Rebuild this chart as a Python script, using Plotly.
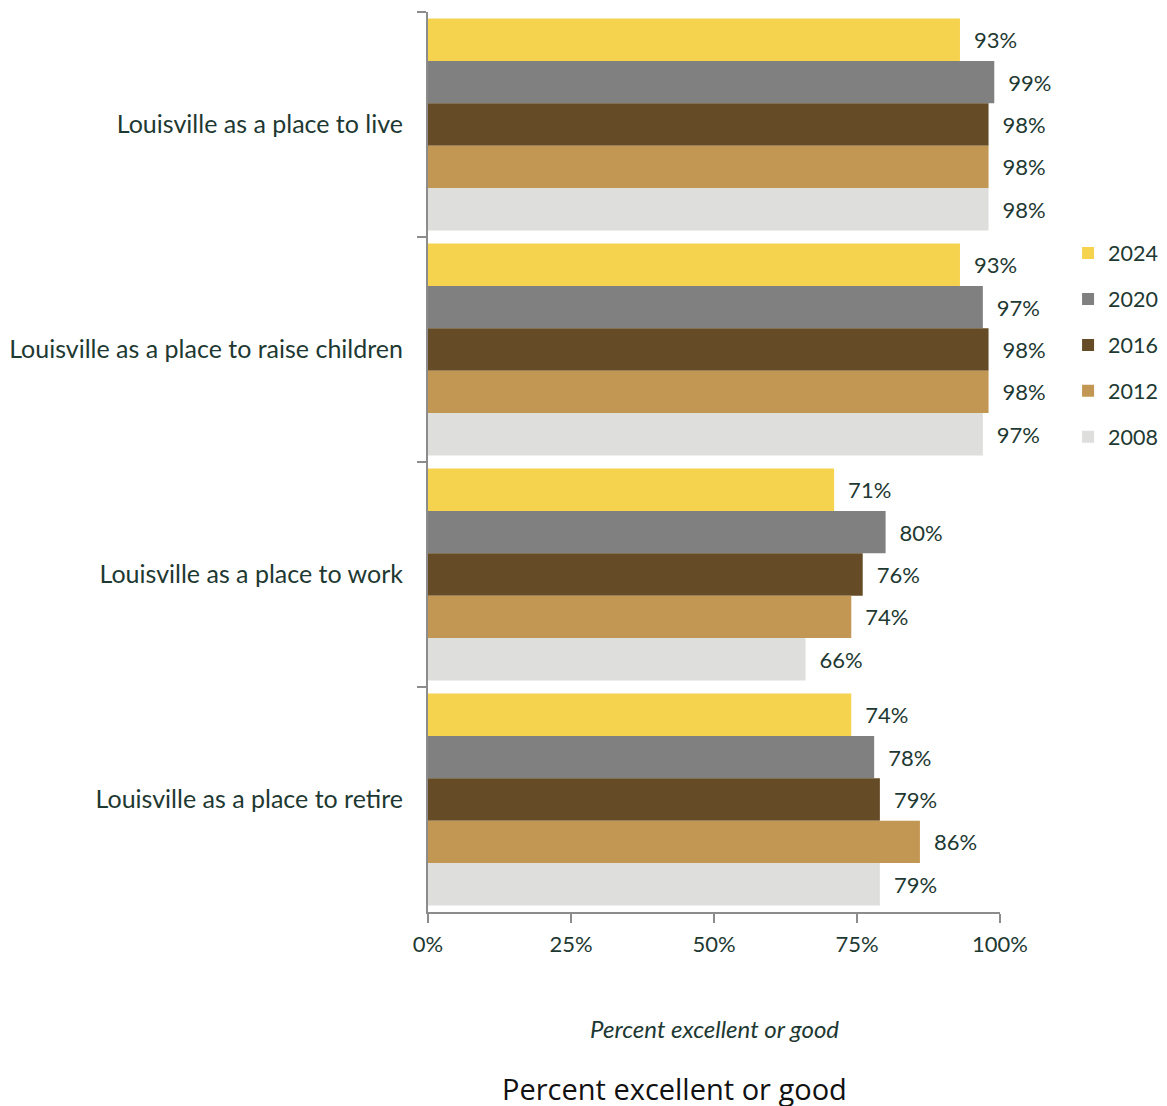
import plotly.graph_objects as go

categories = [
    "Louisville as a place to live",
    "Louisville as a place to raise children",
    "Louisville as a place to work",
    "Louisville as a place to retire",
]
years = ["2024", "2020", "2016", "2012", "2008"]
values = {
    "2024": [93, 93, 71, 74],
    "2020": [99, 97, 80, 78],
    "2016": [98, 98, 76, 79],
    "2012": [98, 98, 74, 86],
    "2008": [98, 97, 66, 79],
}
colors = {
    "2024": "#F5D34F",
    "2020": "#808080",
    "2016": "#654C26",
    "2012": "#C29753",
    "2008": "#DEDFDC",
}
x_ticks = [0, 0.25, 0.5, 0.75, 1.0]
x_tick_labels = ["0%", "25%", "50%", "75%", "100%"]
axis_title = "Percent excellent or good"

TEXT = "#1E3932"
FONT = "Lato"

# page body has an 8px margin; figure is sized to fill the rest of the window
FIG_W, FIG_H = 1159, 1098
M_L, M_T, PLOT_W, PLOT_H = 420, 4, 572, 900

fig = go.Figure()
for yr in years:
    v = values[yr]
    fig.add_trace(go.Bar(
        y=categories,
        x=[a / 100 for a in v],
        name=yr,
        orientation="h",
        marker=dict(color=colors[yr], line=dict(width=0)),
        text=["\u2002" + f"{a}%" for a in v],
        textposition="outside",
        textfont=dict(family=FONT, size=22, color=TEXT),
        constraintext="none",
        cliponaxis=False,
        legendgroup=yr,
    ))

fig.update_layout(
    width=FIG_W,
    height=FIG_H,
    barmode="group",
    bargap=0.058,
    bargroupgap=0,
    plot_bgcolor="white",
    paper_bgcolor="white",
    margin=dict(l=M_L, r=FIG_W - M_L - PLOT_W, t=M_T, b=FIG_H - M_T - PLOT_H,
                autoexpand=False),
    font=dict(family=FONT, color=TEXT, size=22),
    showlegend=True,
    legend=dict(
        x=1.119, y=(912 - 345) / 900.0, xanchor="left", yanchor="middle",
        font=dict(family=FONT, size=21.5, color=TEXT),
        traceorder="grouped",
        tracegroupgap=15,
        itemwidth=30,
        bgcolor="rgba(0,0,0,0)",
    ),
    xaxis=dict(
        range=[0, 1],
        tickvals=x_ticks,
        ticktext=x_tick_labels,
        showgrid=False,
        zeroline=False,
        showline=True,
        linecolor="#8C8C8C",
        linewidth=2,
        ticks="outside",
        ticklen=9,
        tickwidth=2,
        tickcolor="#8C8C8C",
        tickfont=dict(family=FONT, size=22, color=TEXT),
        ticklabelstandoff=3,
        automargin=False,
    ),
    yaxis=dict(
        autorange="reversed",
        showgrid=False,
        zeroline=False,
        showline=True,
        linecolor="#8C8C8C",
        linewidth=2,
        ticks="outside",
        ticklen=9,
        tickwidth=2,
        tickcolor="#8C8C8C",
        tickson="boundaries",
        tickfont=dict(family=FONT, size=25, color=TEXT),
        ticklabelstandoff=18,
        automargin=False,
    ),
    annotations=[
        dict(
            text="<i>" + axis_title + "</i>",
            xref="paper", yref="paper",
            x=0.5, y=(912 - 1028) / 900.0,
            xanchor="center", yanchor="middle",
            showarrow=False,
            font=dict(family=FONT, size=24, color=TEXT),
        ),
        dict(
            text=axis_title,
            xref="paper", yref="paper",
            x=(674 - 428) / 572.0, y=(912 - 1088) / 900.0,
            xanchor="center", yanchor="middle",
            showarrow=False,
            font=dict(family="Open Sans", size=29, color="#111111"),
        ),
    ],
)

fig.write_html("out.html")
